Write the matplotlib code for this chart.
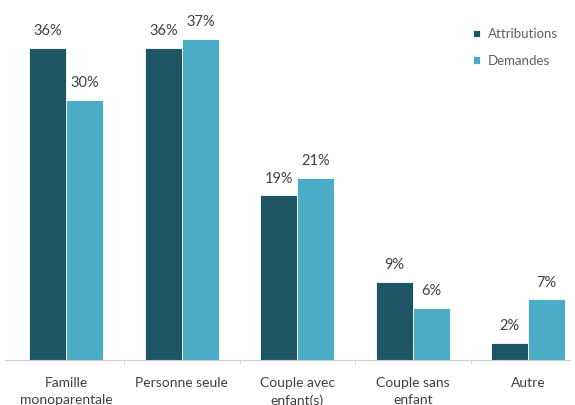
import matplotlib.pyplot as plt
import numpy as np

plt.rcParams['font.family'] = ['Lato', 'DejaVu Sans']

# ===== Data =====
categories = ["Famille\nmonoparentale", "Personne seule", "Couple avec\nenfant(s)",
              "Couple sans\nenfant", "Autre"]
attributions = [36, 36, 19, 9, 2]
demandes = [30, 37, 21, 6, 7]

DARK = "#1e5565"
LIGHT = "#4bacc6"
TXT = "#404040"

# ===== Figure =====
fig = plt.figure(figsize=(5.75, 4.05), dpi=100)
ax = fig.add_axes([0.009, 0.111, 0.982, 0.889])

x = np.arange(len(categories))
w = 0.32
b1 = ax.bar(x - w / 2, attributions, w, color=DARK, label="Attributions",
            edgecolor="white", linewidth=0.6)
b2 = ax.bar(x + w / 2, demandes, w, color=LIGHT, label="Demandes",
            edgecolor="white", linewidth=0.6)

for bars, vals in ((b1, attributions), (b2, demandes)):
    for rect, v in zip(bars, vals):
        ax.text(rect.get_x() + rect.get_width() / 2, v + 1.1, f"{v}%",
                ha="center", va="bottom", fontsize=10.5, color=TXT)

ax.set_xlim(-0.53, 4.36)
ax.set_ylim(0, 41.5)
ax.set_yticks([])
ax.set_xticks(x)
ax.set_xticklabels(categories, fontsize=10, color=TXT, linespacing=1.5)
ax.tick_params(axis="x", length=0, pad=12)

# small ticks between groups
ax.set_xticks(x[:-1] + 0.5, minor=True)
ax.tick_params(axis="x", which="minor", length=3, color="#d0d0d0")

for s in ("top", "right", "left"):
    ax.spines[s].set_visible(False)
ax.spines["bottom"].set_color("#d0d0d0")

leg = ax.legend(loc="upper right", bbox_to_anchor=(1.0, 0.955), frameon=False,
                fontsize=9.5, handlelength=0.5, handleheight=0.5, handletextpad=0.6,
                labelspacing=1.1, labelcolor="#606060")

fig.savefig("out.png", dpi=100)
